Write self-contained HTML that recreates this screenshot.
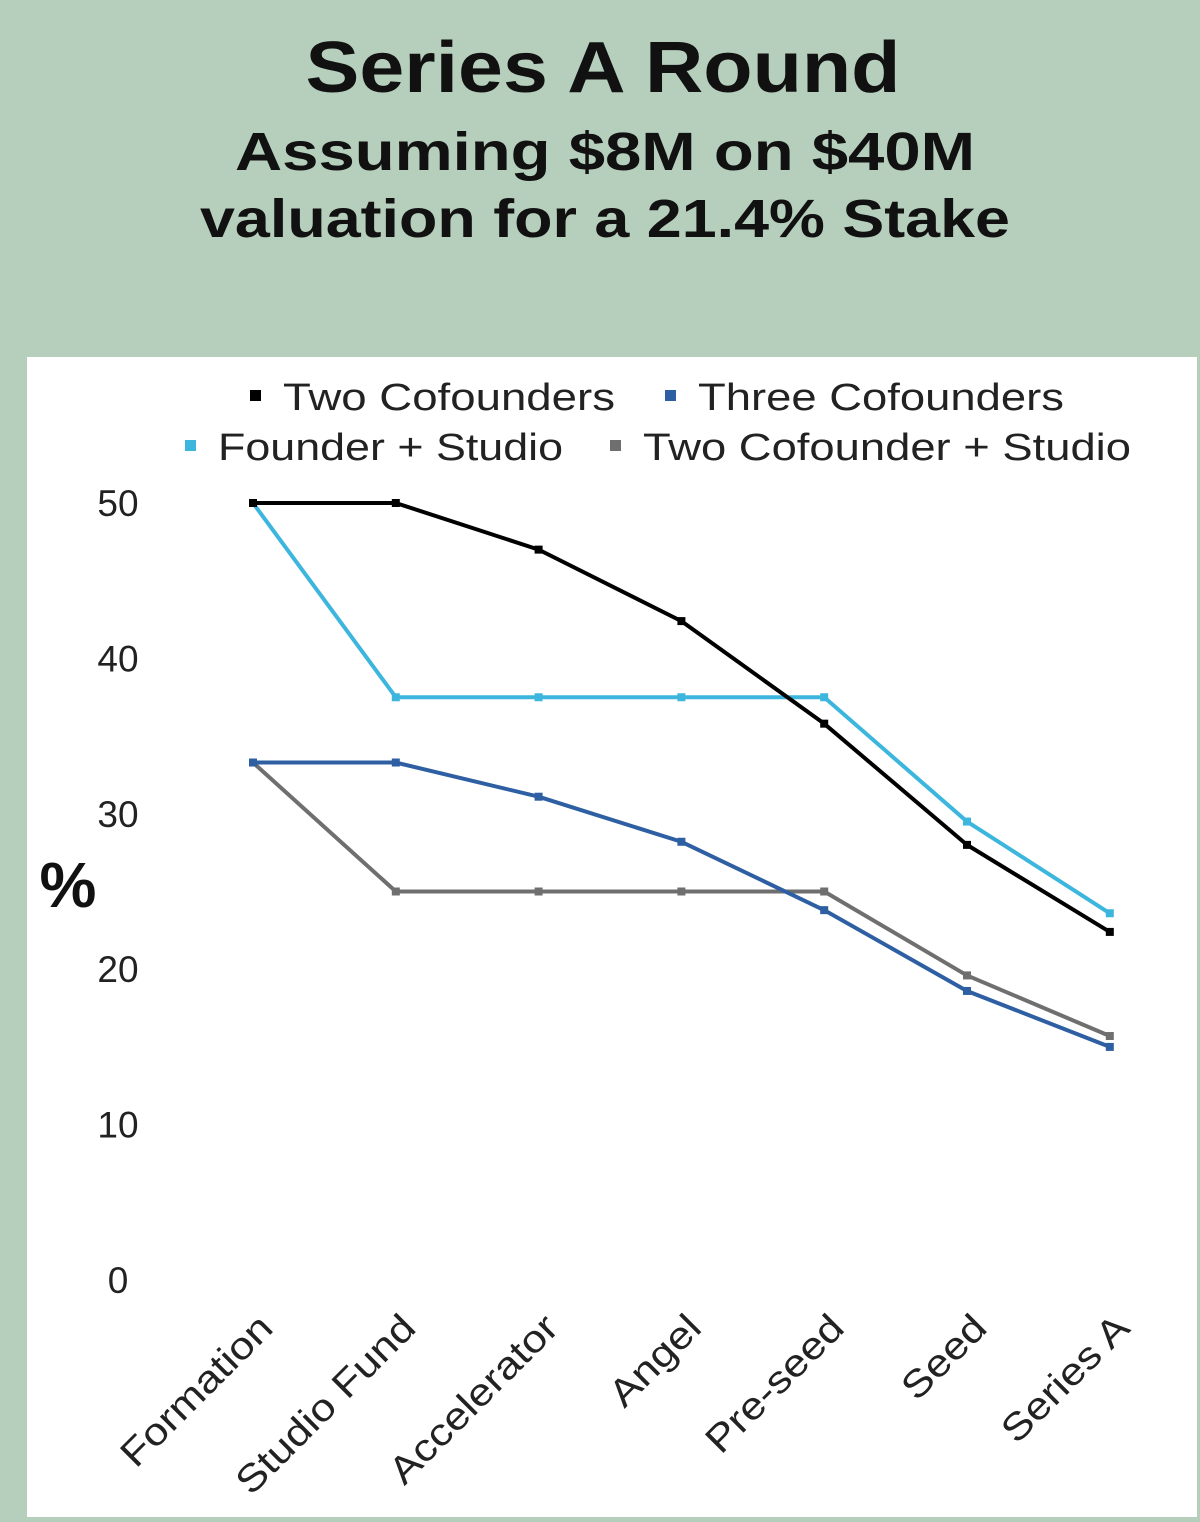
<!DOCTYPE html>
<html><head><meta charset="utf-8"><style>
html,body{margin:0;padding:0;background:#b6cfbc;}
svg{display:block;font-family:"Liberation Sans",sans-serif;}
</style></head><body>
<svg id="chart" width="1200" height="1522" viewBox="0 0 1200 1522">
<rect x="0" y="0" width="1200" height="1522" fill="#b6cfbc"/>
<text x="603" y="92" text-anchor="middle" font-size="72" font-weight="bold" fill="#111" textLength="595" lengthAdjust="spacingAndGlyphs">Series A Round</text>
<text x="605" y="170" text-anchor="middle" font-size="54" font-weight="bold" fill="#111" textLength="740" lengthAdjust="spacingAndGlyphs">Assuming $8M on $40M</text>
<text x="605" y="237" text-anchor="middle" font-size="54" font-weight="bold" fill="#111" textLength="810" lengthAdjust="spacingAndGlyphs">valuation for a 21.4% Stake</text>
<rect x="27" y="357" width="1170" height="1160" fill="#fff"/>
<g id="legend"></g>
<g id="yaxis"></g>
<text x="68" y="907" text-anchor="middle" font-size="64" font-weight="bold" fill="#111">%</text>
<g id="xaxis"></g>
<g id="series"></g>
</svg>
<script>
const categories = ["Formation","Studio Fund","Accelerator","Angel","Pre-seed","Seed","Series A"];
const twoCofounders = [50, 50, 47, 42.4, 35.8, 28.0, 22.4];
const founderStudio = [50, 37.5, 37.5, 37.5, 37.5, 29.5, 23.6];
const threeCofounders = [33.3, 33.3, 31.1, 28.2, 23.8, 18.6, 15.0];
const twoCofounderStudio = [33.3, 25, 25, 25, 25, 19.6, 15.7];
const yTicks = [0, 10, 20, 30, 40, 50];
const seriesNames = ["Two Cofounders","Three Cofounders","Founder + Studio","Two Cofounder + Studio"];

const NS = "http://www.w3.org/2000/svg";
function mk(tag, attrs, parent){const e=document.createElementNS(NS,tag);for(const k in attrs)e.setAttribute(k,attrs[k]);parent.appendChild(e);return e;}
const x = i => 253 + i * 142.8;
const y = v => 1280 - v * 15.54;

const ya = document.getElementById('yaxis');
yTicks.forEach(t=>{
  const e = mk('text',{x:118,y:y(t)+13,'text-anchor':'middle','font-size':37,fill:'#222'},ya);
  e.textContent = t;
  
  
});
const xa = document.getElementById('xaxis');
categories.forEach((c,i)=>{
  const px = x(i)+22, py = 1330;
  const e = mk('text',{x:px,y:py,'text-anchor':'end','font-size':38,fill:'#222',transform:`rotate(-45 ${px} ${py})`},xa);
  e.textContent = c;
  
  
  try{const L=e.getComputedTextLength(); if(L>0){e.setAttribute('textLength',(L*1.15).toFixed(1));e.setAttribute('lengthAdjust','spacingAndGlyphs');}}catch(err){}
});

const sg = document.getElementById('series');
const defs = [
  [twoCofounderStudio,'#6f6f6f','series-two-cofounder-studio'],
  [threeCofounders,'#2e5fa3','series-three-cofounders'],
  [founderStudio,'#3db6de','series-founder-studio'],
  [twoCofounders,'#000','series-two-cofounders']
];
defs.forEach(([data,col,name])=>{
  const pts = data.map((v,i)=>x(i)+','+y(v)).join(' ');
  const pl = mk('polyline',{points:pts,fill:'none',stroke:col,'stroke-width':4,'stroke-linejoin':'round'},sg);
  
  
  data.forEach((v,i)=>{
    const p = mk('rect',{x:x(i)-4,y:y(v)-4,width:8,height:8,fill:col},sg);
    
    
  });
});

const lg = document.getElementById('legend');
const legItems = [
  [seriesNames[0],'#000',250,397,332],
  [seriesNames[1],'#2e5fa3',665,397,366],
  [seriesNames[2],'#3db6de',185,447,345],
  [seriesNames[3],'#6f6f6f',610,447,488]
];
legItems.forEach(([n,col,lx,ly,w])=>{
  const r = mk('rect',{x:lx,y:ly-7,width:11,height:11,fill:col},lg);
  
  
  const t = mk('text',{x:lx+33,y:ly+13,'font-size':38,fill:'#222',textLength:w,lengthAdjust:'spacingAndGlyphs'},lg);
  t.textContent = n;
  
  
});
</script>
</body></html>
